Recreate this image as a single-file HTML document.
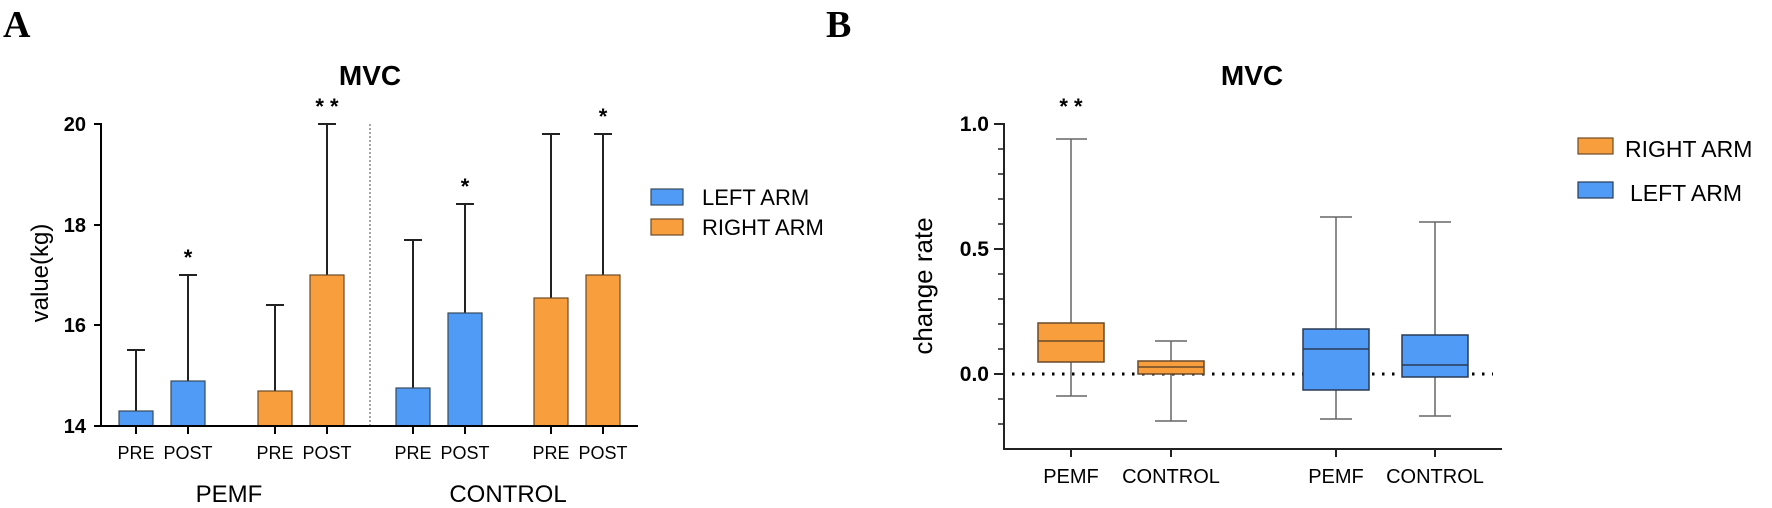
<!DOCTYPE html>
<html><head><meta charset="utf-8"><style>
html,body{margin:0;padding:0;background:#fff;}
svg{display:block;}
text{font-family:"Liberation Sans",Arial,sans-serif;fill:#000;}
</style></head><body>
<svg width="1772" height="508" viewBox="0 0 1772 508" xmlns="http://www.w3.org/2000/svg">
<text x="3" y="37" style="font-family:'Liberation Serif',serif;font-weight:bold;font-size:38px">A</text>
<text x="826" y="37" style="font-family:'Liberation Serif',serif;font-weight:bold;font-size:38px">B</text>

<!-- ===== Chart A ===== -->
<text x="370" y="85" text-anchor="middle" font-weight="bold" font-size="28">MVC</text>
<g stroke="#000" stroke-width="2" fill="none">
  <line x1="101" y1="123" x2="101" y2="427"/>
  <line x1="101" y1="426" x2="638" y2="426"/>
  <line x1="94" y1="124" x2="101" y2="124"/>
  <line x1="94" y1="225" x2="101" y2="225"/>
  <line x1="94" y1="325" x2="101" y2="325"/>
  <line x1="94" y1="426" x2="101" y2="426"/>
</g>
<g font-weight="bold" font-size="20" text-anchor="end">
  <text x="86" y="131">20</text>
  <text x="86" y="232">18</text>
  <text x="86" y="332">16</text>
  <text x="86" y="433">14</text>
</g>
<text transform="translate(48,273) rotate(-90)" text-anchor="middle" font-size="24">value(kg)</text>
<line x1="370" y1="124" x2="370" y2="426" stroke="#888" stroke-width="1.5" stroke-dasharray="2,2"/>

<g stroke="#222" stroke-width="2">
  <line x1="136" y1="350" x2="136" y2="411"/><line x1="127" y1="350" x2="145" y2="350"/>
  <line x1="188" y1="275" x2="188" y2="381"/><line x1="179" y1="275" x2="197" y2="275"/>
  <line x1="275" y1="305" x2="275" y2="391"/><line x1="266" y1="305" x2="284" y2="305"/>
  <line x1="327" y1="124" x2="327" y2="275"/><line x1="318" y1="124" x2="336" y2="124"/>
  <line x1="413" y1="240" x2="413" y2="388"/><line x1="404" y1="240" x2="422" y2="240"/>
  <line x1="465" y1="204" x2="465" y2="313"/><line x1="456" y1="204" x2="474" y2="204"/>
  <line x1="551" y1="134" x2="551" y2="298"/><line x1="542" y1="134" x2="560" y2="134"/>
  <line x1="603" y1="134" x2="603" y2="275"/><line x1="594" y1="134" x2="612" y2="134"/>
</g>
<g stroke="#3a4a5a" stroke-width="1.2">
  <rect x="119" y="411" width="34" height="15" fill="#4f9bf5"/>
  <rect x="171" y="381" width="34" height="45" fill="#4f9bf5"/>
  <rect x="258" y="391" width="34" height="35" fill="#f99e3c" stroke="#6a4a2a"/>
  <rect x="310" y="275" width="34" height="151" fill="#f99e3c" stroke="#6a4a2a"/>
  <rect x="396" y="388" width="34" height="38" fill="#4f9bf5"/>
  <rect x="448" y="313" width="34" height="113" fill="#4f9bf5"/>
  <rect x="534" y="298" width="34" height="128" fill="#f99e3c" stroke="#6a4a2a"/>
  <rect x="586" y="275" width="34" height="151" fill="#f99e3c" stroke="#6a4a2a"/>
</g>
<line x1="101" y1="426" x2="638" y2="426" stroke="#000" stroke-width="2"/>
<g stroke="#000" stroke-width="2">
  <line x1="136" y1="426" x2="136" y2="434"/><line x1="188" y1="426" x2="188" y2="434"/>
  <line x1="275" y1="426" x2="275" y2="434"/><line x1="327" y1="426" x2="327" y2="434"/>
  <line x1="413" y1="426" x2="413" y2="434"/><line x1="465" y1="426" x2="465" y2="434"/>
  <line x1="551" y1="426" x2="551" y2="434"/><line x1="603" y1="426" x2="603" y2="434"/>
</g>
<g font-size="18" text-anchor="middle">
  <text x="136" y="459">PRE</text><text x="188" y="459">POST</text>
  <text x="275" y="459">PRE</text><text x="327" y="459">POST</text>
  <text x="413" y="459">PRE</text><text x="465" y="459">POST</text>
  <text x="551" y="459">PRE</text><text x="603" y="459">POST</text>
</g>
<g font-size="24" text-anchor="middle">
  <text x="229" y="502">PEMF</text>
  <text x="508" y="502">CONTROL</text>
</g>
<g font-size="22" text-anchor="middle" font-weight="bold">
  <text x="188" y="265">*</text>
  <text x="327" y="114">* *</text>
  <text x="465" y="194">*</text>
  <text x="603" y="124">*</text>
</g>
<rect x="651" y="189" width="32" height="16" fill="#4f9bf5" stroke="#3a4a5a" stroke-width="1.2"/>
<rect x="651" y="219" width="32" height="16" fill="#f99e3c" stroke="#6a4a2a" stroke-width="1.2"/>
<text x="702" y="205" font-size="22">LEFT ARM</text>
<text x="702" y="235" font-size="22">RIGHT ARM</text>

<!-- ===== Chart B ===== -->
<text x="1252" y="85" text-anchor="middle" font-weight="bold" font-size="28">MVC</text>
<g stroke="#222" stroke-width="2">
  <line x1="1004" y1="123" x2="1004" y2="449"/>
  <line x1="1003" y1="449" x2="1502" y2="449"/>
  <line x1="994" y1="124" x2="1004" y2="124"/>
  <line x1="994" y1="249" x2="1004" y2="249"/>
  <line x1="994" y1="374" x2="1004" y2="374"/>
</g>
<g stroke="#222" stroke-width="1.5">
  <line x1="998" y1="149" x2="1004" y2="149"/><line x1="998" y1="174" x2="1004" y2="174"/>
  <line x1="998" y1="199" x2="1004" y2="199"/><line x1="998" y1="224" x2="1004" y2="224"/>
  <line x1="998" y1="274" x2="1004" y2="274"/><line x1="998" y1="299" x2="1004" y2="299"/>
  <line x1="998" y1="324" x2="1004" y2="324"/><line x1="998" y1="349" x2="1004" y2="349"/>
  <line x1="998" y1="399" x2="1004" y2="399"/><line x1="998" y1="424" x2="1004" y2="424"/>
</g>
<g font-weight="bold" font-size="21" text-anchor="end">
  <text x="989" y="131">1.0</text>
  <text x="989" y="256">0.5</text>
  <text x="989" y="381">0.0</text>
</g>
<text transform="translate(932,286) rotate(-90)" text-anchor="middle" font-size="26">change rate</text>
<line x1="1012" y1="374" x2="1493" y2="374" stroke="#000" stroke-width="3" stroke-dasharray="2.5,7.5"/>

<g stroke="#666" stroke-width="1.5">
  <line x1="1071" y1="139" x2="1071" y2="396"/><line x1="1056" y1="139" x2="1087" y2="139"/><line x1="1056" y1="396" x2="1087" y2="396"/>
  <line x1="1171" y1="341" x2="1171" y2="421"/><line x1="1155" y1="341" x2="1187" y2="341"/><line x1="1155" y1="421" x2="1187" y2="421"/>
  <line x1="1336" y1="217" x2="1336" y2="419"/><line x1="1320" y1="217" x2="1352" y2="217"/><line x1="1320" y1="419" x2="1352" y2="419"/>
  <line x1="1435" y1="222" x2="1435" y2="416"/><line x1="1419" y1="222" x2="1451" y2="222"/><line x1="1419" y1="416" x2="1451" y2="416"/>
</g>
<g stroke-width="1.5">
  <rect x="1038" y="323" width="66" height="39" fill="#f99e3c" stroke="#6a4a2a"/>
  <line x1="1038" y1="341" x2="1104" y2="341" stroke="#6a4a2a"/>
  <rect x="1138" y="361" width="66" height="13" fill="#f99e3c" stroke="#6a4a2a"/>
  <line x1="1138" y1="367" x2="1204" y2="367" stroke="#6a4a2a"/>
  <rect x="1303" y="329" width="66" height="61" fill="#4f9bf5" stroke="#2a3a55"/>
  <line x1="1303" y1="349" x2="1369" y2="349" stroke="#2a3a55"/>
  <rect x="1402" y="335" width="66" height="42" fill="#4f9bf5" stroke="#2a3a55"/>
  <line x1="1402" y1="365" x2="1468" y2="365" stroke="#2a3a55"/>
</g>
<g stroke="#222" stroke-width="2">
  <line x1="1071" y1="449" x2="1071" y2="457"/><line x1="1171" y1="449" x2="1171" y2="457"/>
  <line x1="1336" y1="449" x2="1336" y2="457"/><line x1="1435" y1="449" x2="1435" y2="457"/>
</g>
<g font-size="20" text-anchor="middle">
  <text x="1071" y="483">PEMF</text><text x="1171" y="483">CONTROL</text>
  <text x="1336" y="483">PEMF</text><text x="1435" y="483">CONTROL</text>
</g>
<text x="1071" y="114" text-anchor="middle" font-size="22" font-weight="bold">* *</text>
<rect x="1578" y="138" width="35" height="16" fill="#f99e3c" stroke="#6a4a2a" stroke-width="1.2"/>
<rect x="1578" y="182" width="35" height="16" fill="#4f9bf5" stroke="#2a3a55" stroke-width="1.2"/>
<text x="1625" y="157" font-size="23">RIGHT ARM</text>
<text x="1630" y="201" font-size="23">LEFT ARM</text>
</svg>
</body></html>
